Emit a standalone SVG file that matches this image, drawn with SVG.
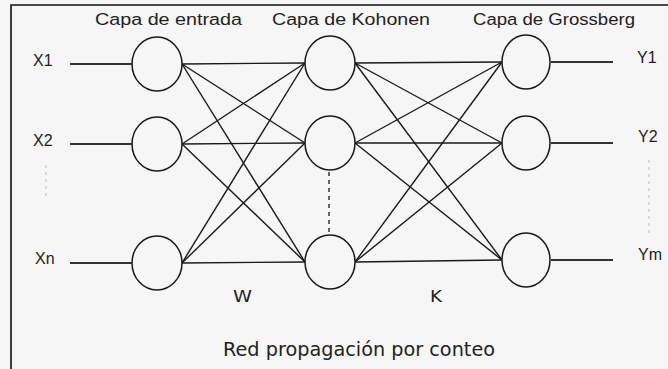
<svg xmlns="http://www.w3.org/2000/svg" width="668" height="369" viewBox="0 0 668 369">
<style>
.bg{fill:#f6f6f6}
.frame{stroke:#111;stroke-width:1.6;fill:none}
.node{fill:#f6f6f6;stroke:#1a1a1a;stroke-width:1.5}
.edge{stroke:#1a1a1a;stroke-width:1.4;fill:none}
.io{stroke:#333;stroke-width:1.8;fill:none}
.dash{stroke:#333;stroke-width:1.5;stroke-dasharray:4 4}
.faint{stroke:#bbb;stroke-width:1;stroke-dasharray:3 4}
.t{font-family:"Liberation Sans",Arial,sans-serif;font-size:16px;fill:#222}
.v{font-family:"DejaVu Sans",Verdana,sans-serif;fill:#222}
</style>
<rect class="bg" x="0" y="0" width="668" height="369"/>
<path class="frame" d="M11,369 V5 H668"/>

<g id="titles">
<text class="t" x="95" y="25" textLength="147" lengthAdjust="spacingAndGlyphs">Capa de entrada</text>
<text class="t" x="272" y="25" textLength="158" lengthAdjust="spacingAndGlyphs">Capa de Kohonen</text>
<text class="t" x="473" y="25" textLength="162" lengthAdjust="spacingAndGlyphs">Capa de Grossberg</text>
</g>

<g id="connectors">
<line class="io" x1="70" y1="64" x2="132" y2="64"/>
<line class="io" x1="70" y1="144" x2="132" y2="144"/>
<line class="io" x1="70" y1="263" x2="132" y2="263"/>
<line class="edge" x1="182" y1="64" x2="305" y2="63"/>
<line class="edge" x1="182" y1="64" x2="305" y2="143"/>
<line class="edge" x1="182" y1="64" x2="305" y2="262"/>
<line class="edge" x1="182" y1="144" x2="305" y2="63"/>
<line class="edge" x1="182" y1="144" x2="305" y2="143"/>
<line class="edge" x1="182" y1="144" x2="305" y2="262"/>
<line class="edge" x1="182" y1="263" x2="305" y2="63"/>
<line class="edge" x1="182" y1="263" x2="305" y2="143"/>
<line class="edge" x1="182" y1="263" x2="305" y2="262"/>
<line class="edge" x1="355" y1="63" x2="502" y2="62"/>
<line class="edge" x1="355" y1="63" x2="502" y2="143"/>
<line class="edge" x1="355" y1="63" x2="502" y2="260"/>
<line class="edge" x1="355" y1="143" x2="502" y2="62"/>
<line class="edge" x1="355" y1="143" x2="502" y2="143"/>
<line class="edge" x1="355" y1="143" x2="502" y2="260"/>
<line class="edge" x1="355" y1="262" x2="502" y2="62"/>
<line class="edge" x1="355" y1="262" x2="502" y2="143"/>
<line class="edge" x1="355" y1="262" x2="502" y2="260"/>
<line class="io" x1="551" y1="62" x2="613" y2="62"/>
<line class="io" x1="551" y1="143" x2="613" y2="143"/>
<line class="io" x1="551" y1="260" x2="613" y2="260"/>
<line class="faint" x1="46" y1="165" x2="46" y2="196"/>
<line class="dash" x1="329" y1="172" x2="329" y2="234"/>
<line class="faint" x1="649" y1="160" x2="649" y2="233"/>
</g>

<g id="input1"><ellipse class="node" cx="157" cy="64" rx="25" ry="27"/><text class="t" x="33" y="66" font-size="17">X1</text></g>
<g id="input2"><ellipse class="node" cx="157" cy="144" rx="25" ry="27"/><text class="t" x="33" y="146" font-size="17">X2</text></g>
<g id="inputn"><ellipse class="node" cx="157" cy="263" rx="25" ry="27"/><text class="t" x="35" y="264" font-size="17">Xn</text></g>

<g id="kohonen1"><ellipse class="node" cx="330" cy="63" rx="25" ry="27"/></g>
<g id="kohonen2"><ellipse class="node" cx="330" cy="143" rx="25" ry="27"/></g>
<g id="kohonenn"><ellipse class="node" cx="330" cy="262" rx="25" ry="27"/></g>

<g id="grossberg1"><ellipse class="node" cx="526" cy="62" rx="24" ry="27"/><text class="t" x="637" y="63" font-size="17">Y1</text></g>
<g id="grossberg2"><ellipse class="node" cx="526" cy="143" rx="24" ry="27"/><text class="t" x="638" y="142" font-size="17">Y2</text></g>
<g id="grossbergm"><ellipse class="node" cx="526" cy="260" rx="24" ry="27"/><text class="t" x="638" y="260" font-size="17">Ym</text></g>

<g id="labels">
<text class="v" x="233" y="302" font-size="15" textLength="19" lengthAdjust="spacingAndGlyphs">W</text>
<text class="v" x="430" y="302" font-size="16" textLength="12" lengthAdjust="spacingAndGlyphs">K</text>
<text class="v" x="223" y="356" font-size="19" textLength="272" lengthAdjust="spacingAndGlyphs">Red propagación por conteo</text>
</g>
</svg>
